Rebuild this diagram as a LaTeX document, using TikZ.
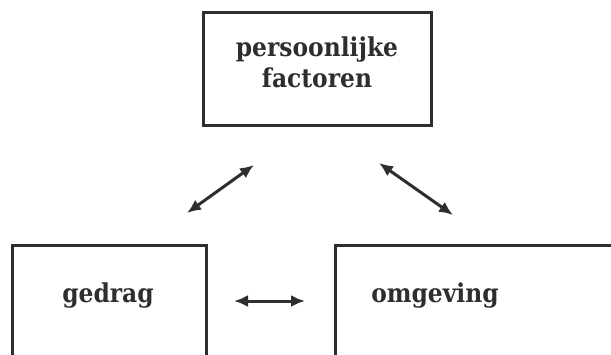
\documentclass[tikz,border=0pt]{standalone}
\usepackage{fontspec}
\setmainfont{DejaVu Serif Condensed}
\usetikzlibrary{arrows.meta}
\definecolor{ink}{HTML}{2E2E2E}
\begin{document}
\begin{tikzpicture}[x=1pt,y=-1pt,
  box/.style={draw=ink,line width=3pt,rectangle,inner sep=0pt},
  lbl/.style={text=ink,font=\fontsize{26}{31}\selectfont\bfseries,anchor=base,inner sep=0pt},
  link/.style={draw=ink,line width=3pt,{Latex[length=14pt,width=12pt]}-{Latex[length=14pt,width=12pt]}}]
  \useasboundingbox (0,0) rectangle (611,354);
  % the three boxes; the lower two run off the page
  \node[box,minimum width=228pt,minimum height=113pt] (pers) at (317,68.5) {};
  \node[box,minimum width=194pt,minimum height=150pt] (gedr) at (109,320) {};
  \node[box,minimum width=300pt,minimum height=150pt] (omg) at (485,320) {};
  % labels
  \node[lbl] (p1) at (317,56) {persoonlijke};
  \node[lbl] (p2) at (317,87) {factoren};
  \node[lbl] (g1) at (108,302) {gedrag};
  \node[lbl] (o1) at (435,302) {omgeving};
  % ends of the arrows
  \coordinate (a1) at (187,213);
  \coordinate (a2) at (254,165);
  \coordinate (b1) at (379,163);
  \coordinate (b2) at (453,215);
  \coordinate (c1) at (234,301);
  \coordinate (c2) at (305,301);
  \draw[link] (a1) -- (a2);
  \draw[link] (b1) -- (b2);
  \draw[link] (c1) -- (c2);
\end{tikzpicture}
\end{document}
